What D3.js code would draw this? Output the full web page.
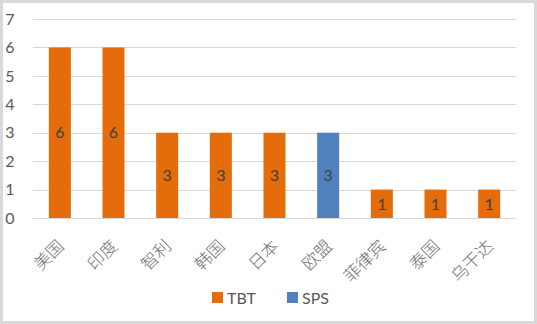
<!DOCTYPE html>
<html>
<head>
<meta charset="utf-8">
<script src="https://cdn.jsdelivr.net/npm/d3@7"></script>
<style>
  html, body { margin: 0; padding: 0; background: #fff; }
  svg { display: block; }
</style>
</head>
<body>
<svg id="chart" width="537" height="324"></svg>
<script>
// Categories and series values
const categories = ["美国", "印度", "智利", "韩国", "日本", "欧盟", "菲律宾", "泰国", "乌干达"];
const tbtValues = [6, 6, 3, 3, 3, 0, 1, 1, 1];
const spsValues = [0, 0, 0, 0, 0, 3, 0, 0, 0];
const yTicks = [0, 1, 2, 3, 4, 5, 6, 7];
const seriesNames = ["TBT", "SPS"];
const seriesColors = ["#E46C0A", "#4F81BD"];

const W = 537, H = 324;
const svg = d3.select("#chart");
const numFont = "Lato, 'Open Sans', 'Noto Sans', sans-serif";
const cjkFont = "'Noto Sans CJK SC', 'Noto Sans', sans-serif";

// Outer frame
svg.append("rect")
  .attr("x", 1.5).attr("y", 1.5)
  .attr("width", W - 3).attr("height", H - 3)
  .attr("fill", "#fff").attr("stroke", "#D9D9D9").attr("stroke-width", 3);

const plot = { left: 33, right: 516, top: 19, bottom: 218 };

const x = d3.scaleBand()
  .domain(categories)
  .range([plot.left, plot.right])
  .paddingInner(0.59).paddingOuter(0.295);

const y = d3.scaleLinear()
  .domain([0, 7])
  .range([plot.bottom, plot.top]);

// Horizontal gridlines
svg.append("g")
  .selectAll("line")
  .data(yTicks)
  .join("line")
  .attr("x1", plot.left).attr("x2", plot.right)
  .attr("y1", d => Math.round(y(d)) + 0.5).attr("y2", d => Math.round(y(d)) + 0.5)
  .attr("stroke", "#D9D9D9").attr("stroke-width", 1);

// Y axis labels
svg.append("g")
  .selectAll("text")
  .data(yTicks)
  .join("text")
  .attr("x", 10).attr("y", d => y(d))
  .attr("dy", "0.36em")
  .attr("text-anchor", "middle")
  .attr("font-family", numFont).attr("font-size", 16)
  .attr("fill", "#595959")
  .text(d => d);

// Bars for each series, with value labels centred in the bar
const series = [tbtValues, spsValues];
series.forEach((vals, si) => {
  const data = categories.map((c, i) => ({ c, v: vals[i] })).filter(d => d.v > 0);
  const g = svg.append("g");
  g.selectAll("rect")
    .data(data)
    .join("rect")
    .attr("x", d => x(d.c))
    .attr("y", d => y(d.v))
    .attr("width", x.bandwidth())
    .attr("height", d => y(0) - y(d.v))
    .attr("fill", seriesColors[si]);
  g.selectAll("text")
    .data(data)
    .join("text")
    .attr("x", d => x(d.c) + x.bandwidth() / 2)
    .attr("y", d => (y(d.v) + y(0)) / 2)
    .attr("dy", "0.36em")
    .attr("text-anchor", "middle")
    .attr("font-family", numFont).attr("font-size", 16)
    .attr("fill", "#404040")
    .text(d => d.v);
});

// Rotated category labels
svg.append("g")
  .selectAll("text")
  .data(categories)
  .join("text")
  .attr("transform", d => `translate(${x(d) + x.bandwidth() / 2 + 1},${plot.bottom + 25}) rotate(-45)`)
  .attr("text-anchor", "end")
  .attr("dy", "0.35em")
  .attr("font-family", cjkFont).attr("font-size", 17).attr("font-weight", 300)
  .attr("fill", "#6f6f6f")
  .text(d => d);

// Legend
const legendX = [212, 287];
const legend = svg.append("g");
seriesNames.forEach((name, i) => {
  legend.append("rect")
    .attr("x", legendX[i]).attr("y", 292)
    .attr("width", 11).attr("height", 11)
    .attr("fill", seriesColors[i]);
  legend.append("text")
    .attr("x", legendX[i] + 15).attr("y", 298)
    .attr("dy", "0.36em")
    .attr("font-family", numFont).attr("font-size", 16)
    .attr("fill", "#595959")
    .text(name);
});
</script>
</body>
</html>
